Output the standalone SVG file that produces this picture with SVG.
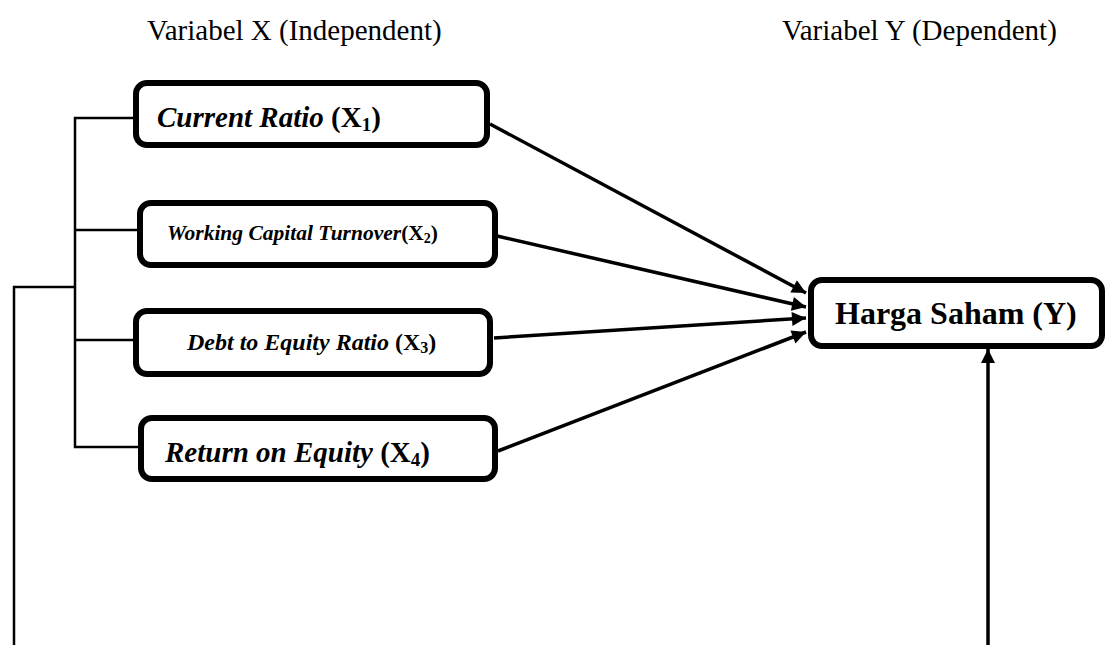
<svg xmlns="http://www.w3.org/2000/svg" width="1106" height="645" viewBox="0 0 1106 645">
<style>
.box{fill:#fff;stroke:#000;stroke-width:6}
.bi{font-family:"Liberation Serif","Times New Roman",serif;font-weight:bold;font-style:italic;fill:#000}
.b{font-family:"Liberation Serif","Times New Roman",serif;font-weight:bold;font-style:normal;fill:#000}
.hd{font-family:"Liberation Serif","Times New Roman",serif;font-size:29px;fill:#000}
.br{fill:none;stroke:#000;stroke-width:2.5}
.ar{fill:none;stroke:#000;stroke-width:3.5;marker-end:url(#ah)}
</style>
<defs>
<marker id="ah" viewBox="0 0 10 10" refX="10" refY="5" markerWidth="4.5" markerHeight="4" orient="auto" markerUnits="strokeWidth">
<path d="M0,0 L10,5 L0,10 z" fill="#000"/>
</marker>
</defs>
<rect width="1106" height="645" fill="#fff"/>
<g id="headings">
<text class="hd" x="147" y="40">Variabel X (Independent)</text>
<text class="hd" x="782" y="40">Variabel Y (Dependent)</text>
</g>
<g id="connectors">
<polyline class="br" points="133,118 75,118 75,447 138,447"/>
<line class="br" x1="75" y1="230" x2="137" y2="230"/>
<line class="br" x1="75" y1="340" x2="133" y2="340"/>
<polyline class="br" points="75,287 14,287 14,645"/>
<line class="ar" x1="490" y1="124" x2="806" y2="293"/>
<line class="ar" x1="497" y1="236" x2="806" y2="307"/>
<line class="ar" x1="494" y1="338" x2="806" y2="318"/>
<line class="ar" x1="498" y1="451" x2="806" y2="332"/>
<line class="ar" x1="988" y1="645" x2="988" y2="349"/>
</g>
<g id="x1">
<rect class="box" x="136" y="83" width="351" height="62" rx="11"/>
<text class="bi" x="157" y="127" font-size="29">Current Ratio <tspan class="b">(X<tspan font-size="19" dy="4">1</tspan><tspan dy="-4">)</tspan></tspan></text>
</g>
<g id="x2">
<rect class="box" x="140" y="203" width="355" height="62" rx="11"/>
<text class="bi" x="167" y="240" font-size="21.5">Working Capital Turnover<tspan class="b">(X<tspan font-size="14" dy="3">2</tspan><tspan dy="-3">)</tspan></tspan></text>
</g>
<g id="x3">
<rect class="box" x="136" y="311" width="354" height="63" rx="11"/>
<text class="bi" x="187" y="350" font-size="24">Debt to Equity Ratio <tspan class="b">(X<tspan font-size="16" dy="3">3</tspan><tspan dy="-3">)</tspan></tspan></text>
</g>
<g id="x4">
<rect class="box" x="141" y="418" width="354" height="61" rx="11"/>
<text class="bi" x="165" y="462" font-size="29">Return on Equity <tspan class="b">(X<tspan font-size="19" dy="4">4</tspan><tspan dy="-4">)</tspan></tspan></text>
</g>
<g id="y">
<rect class="box" x="811" y="280" width="291" height="66" rx="11"/>
<text class="b" x="835" y="324" font-size="32">Harga Saham (Y)</text>
</g>
</svg>
